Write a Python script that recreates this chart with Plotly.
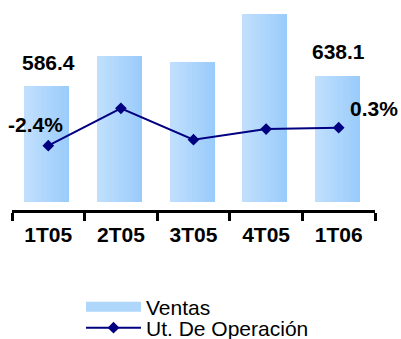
import plotly.graph_objects as go

# Quarterly sales and operating margin
periods = ["1T05", "2T05", "3T05", "4T05", "1T06"]
ventas = [586.4, 738.0, 709.0, 950.0, 638.1]
margen = [-2.4, 3.2, -1.5, 0.1, 0.3]

FONT = "Liberation Sans, Arial, sans-serif"
NAVY = "#000080"
LEFT_RGB = (194, 224, 253)
RIGHT_RGB = (153, 203, 250)
W, H = 401, 339

fig = go.Figure()

# Bars with a horizontal light-to-darker blue gradient, built from overlapping strips
bar_w = 0.62
shift = -0.02
n_strips = 16
for k in range(n_strips):
    t = (k + 0.5) / n_strips
    r, g, b = (round(a + (c - a) * t) for a, c in zip(LEFT_RGB, RIGHT_RGB))
    start = -bar_w / 2 + shift + k * bar_w / n_strips
    fig.add_trace(go.Bar(
        x=periods, y=ventas,
        width=[bar_w - k * bar_w / n_strips] * len(periods),
        offset=[start] * len(periods),
        marker=dict(color=f"rgb({r},{g},{b})", line=dict(width=0)),
        name="Ventas", legendgroup="ventas", showlegend=False,
        hoverinfo="skip",
    ))

# Legend swatch for the sales bars (wide light-blue band)
fig.add_trace(go.Scatter(
    x=[None], y=[None], mode="lines", name="Ventas",
    legendgroup="ventas", legend="legend",
    line=dict(color="#afd6fb", width=12),
))

fig.add_trace(go.Scatter(
    x=periods, y=margen, yaxis="y2",
    mode="lines+markers", name="Ut. De Operación", legend="legend2",
    line=dict(color=NAVY, width=2),
    marker=dict(symbol="diamond", size=9, color=NAVY),
))

# Value labels on the first and last quarter
ann = []
for i in (0, len(periods) - 1):
    ann.append(dict(x=periods[i], y=ventas[i], xref="x", yref="y",
                    text=f"{ventas[i]:.1f}", showarrow=False,
                    yanchor="middle", yshift=24,
                    font=dict(family=FONT, size=21, color="black", weight="bold")))
for i, (dx, dy) in ((0, (-13, 21)), (len(periods) - 1, (35, 19))):
    ann.append(dict(x=periods[i], y=margen[i], xref="x", yref="y2",
                    text=f"{margen[i]:.1f}%", showarrow=False,
                    xshift=dx, yshift=dy, yanchor="middle",
                    font=dict(family=FONT, size=21, color="black", weight="bold")))

legend_style = dict(
    xref="container", yref="container", xanchor="left", yanchor="middle",
    bgcolor="rgba(0,0,0,0)", borderwidth=0,
    font=dict(family=FONT, size=21, color="black"),
    itemwidth=55,
)

fig.update_layout(
    width=W, height=H, autosize=False,
    margin=dict(l=12, r=26, t=10, b=129, autoexpand=False),
    paper_bgcolor="white", plot_bgcolor="white",
    barmode="overlay", bargap=0,
    showlegend=True,
    font=dict(family=FONT, size=21, color="black"),
    xaxis=dict(
        type="category", categoryorder="array", categoryarray=periods,
        range=[-0.5, len(periods) - 0.5],
        showline=True, linecolor="black", linewidth=3,
        ticks="outside", ticklen=8, tickwidth=3, tickcolor="black",
        tickson="boundaries", ticklabelstandoff=4,
        tickfont=dict(family=FONT, size=21, color="black", weight="bold"),
        showgrid=False, zeroline=False, automargin=False,
    ),
    xaxis2=dict(
        overlaying="x", anchor="y", side="bottom",
        range=[-0.5, len(periods) - 0.5],
        tickvals=[i - 0.5 for i in range(len(periods) + 1)],
        ticks="inside", ticklen=8, tickwidth=3, tickcolor="black",
        showticklabels=False, showline=False, showgrid=False, zeroline=False,
    ),
    yaxis=dict(range=[-40.44, 970.6], visible=False),
    yaxis2=dict(range=[-12.05, 17.96], overlaying="y", visible=False),
    legend=dict(x=81 / W, y=1 - 307 / H, **legend_style),
    legend2=dict(x=81 / W, y=1 - 328 / H, **legend_style),
    annotations=ann,
)

fig.write_html("out.html")
